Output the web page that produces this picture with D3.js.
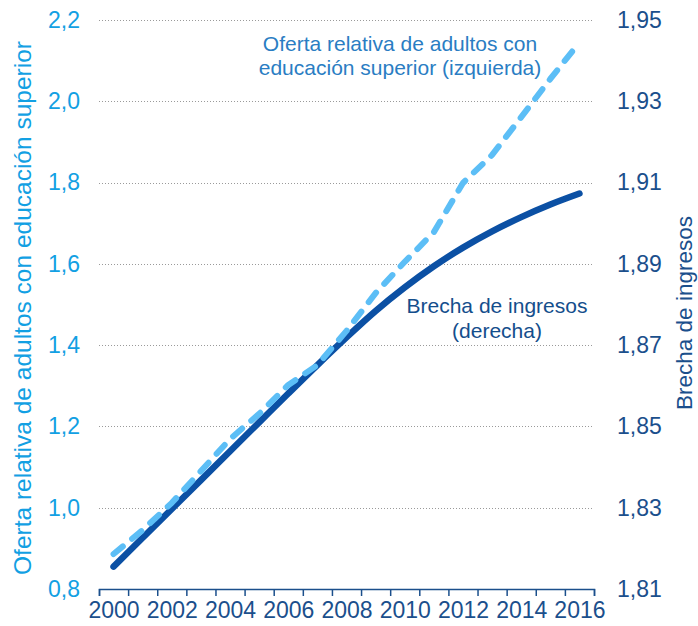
<!DOCTYPE html>
<html>
<head>
<meta charset="utf-8">
<script src="https://cdn.jsdelivr.net/npm/d3@7"></script>
<style>
  html, body { margin: 0; padding: 0; background: #ffffff; }
  svg text { font-family: "Liberation Sans", Arial, sans-serif; }
</style>
</head>
<body>
<svg id="chart" width="698" height="626"></svg>
<script>
// ---- data ----
const years = [2000, 2001, 2002, 2003, 2004, 2005, 2006, 2007, 2008, 2009, 2010, 2011, 2012, 2013, 2014, 2015, 2016];
const labelYears = [2000, 2002, 2004, 2006, 2008, 2010, 2012, 2014, 2016];
// Oferta relativa de adultos con educación superior (izquierda)
const ofertaValues = [0.886, 0.945, 1.012, 1.090, 1.169, 1.231, 1.302, 1.351, 1.435, 1.528, 1.605, 1.678, 1.799, 1.868, 1.961, 2.055, 2.145];
// Brecha de ingresos (derecha)
const brechaValues = [1.8155, 1.8226, 1.8297, 1.8368, 1.8439, 1.8510, 1.8581, 1.8651, 1.8719, 1.8784, 1.8842, 1.8894, 1.8940, 1.8980, 1.9015, 1.9046, 1.9073];
const leftTicks = [0.8, 1.0, 1.2, 1.4, 1.6, 1.8, 2.0, 2.2];
const rightTicks = [1.81, 1.83, 1.85, 1.87, 1.89, 1.91, 1.93, 1.95];
const leftTitle = "Oferta relativa de adultos con educación superior";
const rightTitle = "Brecha de ingresos";
const ofertaLabel = ["Oferta relativa de adultos con", "educación superior (izquierda)"];
const brechaLabel = ["Brecha de ingresos", "(derecha)"];

(function () {
// ---- layout ----
const svg = d3.select("#chart");
const mL = 99, mR = 594, mT = 20, mB = 589;
const x = d3.scaleLinear().domain([years[0] - 0.5, years[years.length - 1] + 0.5]).range([mL, mR]);
const yL = d3.scaleLinear().domain([0.8, 2.2]).range([mB, mT]);
const yR = d3.scaleLinear().domain([1.81, 1.95]).range([mB, mT]);

const cLeft = "#12A0E3", cRight = "#1B4F8C", cDark = "#0B50A4", cLight = "#5CBEF6";
const fmt = (d, p) => d3.format("." + p + "f")(d).replace(".", ",");

// gridlines
svg.append("g").selectAll("line").data(leftTicks.slice(1)).join("line")
  .attr("x1", mL).attr("x2", mR - 1)
  .attr("y1", d => Math.round(yL(d)) + 0.5).attr("y2", d => Math.round(yL(d)) + 0.5)
  .attr("stroke", "#9a9a9a").attr("stroke-width", 1).attr("stroke-dasharray", "1,2");

// left axis labels
const gL = svg.append("g").attr("transform", `translate(${mL},0)`)
  .call(d3.axisLeft(yL).tickValues(leftTicks).tickSize(0).tickPadding(19).tickFormat(d => fmt(d, 1)));
gL.select(".domain").remove();
gL.selectAll("text").attr("fill", cLeft).style("font-size", "23px");

// right axis labels
const gR = svg.append("g").attr("transform", `translate(${mR},0)`)
  .call(d3.axisRight(yR).tickValues(rightTicks).tickSize(0).tickPadding(23).tickFormat(d => fmt(d, 2)));
gR.select(".domain").remove();
gR.selectAll("text").attr("fill", cRight).style("font-size", "23px");

// x axis: boundary ticks
const boundaries = d3.range(years.length + 1).map(i => years[0] - 0.5 + i);
const gX = svg.append("g").attr("transform", `translate(0,${mB})`)
  .call(d3.axisBottom(x).tickValues(boundaries).tickSizeInner(7).tickSizeOuter(7).tickFormat(""));
gX.select(".domain").attr("stroke", cRight).attr("stroke-width", 1.5);
gX.selectAll(".tick line").attr("stroke", cRight).attr("stroke-width", 1.5);

// x axis labels
const gX2 = svg.append("g").attr("transform", `translate(0,${mB})`)
  .call(d3.axisBottom(x).tickValues(labelYears).tickSize(0).tickPadding(13).tickFormat(d3.format("d")));
gX2.select(".domain").remove();
gX2.selectAll("text").attr("fill", cRight).style("font-size", "23px");

// lines
const lineBrecha = d3.line().x((d, i) => x(years[i])).y(d => yR(d)).curve(d3.curveMonotoneX);
const lineOferta = d3.line().x((d, i) => x(years[i])).y(d => yL(d));

svg.append("path").datum(brechaValues).attr("d", lineBrecha)
  .attr("fill", "none").attr("stroke", cDark).attr("stroke-width", 6.5)
  .attr("stroke-linecap", "round").attr("stroke-linejoin", "round");

svg.append("path").datum(ofertaValues).attr("d", lineOferta)
  .attr("fill", "none").attr("stroke", cLight).attr("stroke-width", 6)
  .attr("stroke-dasharray", "12,12")
  .attr("stroke-linecap", "round").attr("stroke-linejoin", "round");

// axis titles
svg.append("text").attr("transform", `translate(31,308) rotate(-90)`)
  .attr("text-anchor", "middle").attr("fill", cLeft).style("font-size", "24.5px").text(leftTitle);
svg.append("text").attr("transform", `translate(692,313) rotate(-90)`)
  .attr("text-anchor", "middle").attr("fill", cRight).style("font-size", "22.5px").text(rightTitle);

// annotations
svg.append("g").selectAll("text").data(ofertaLabel).join("text")
  .attr("x", 400).attr("y", (d, i) => 51 + i * 24)
  .attr("text-anchor", "middle").attr("fill", "#2A7DC3").style("font-size", "21px").text(d => d);
svg.append("g").selectAll("text").data(brechaLabel).join("text")
  .attr("x", 497).attr("y", (d, i) => 313 + i * 25)
  .attr("text-anchor", "middle").attr("fill", "#144E8C").style("font-size", "21px").text(d => d);
})();
</script>
</body>
</html>
